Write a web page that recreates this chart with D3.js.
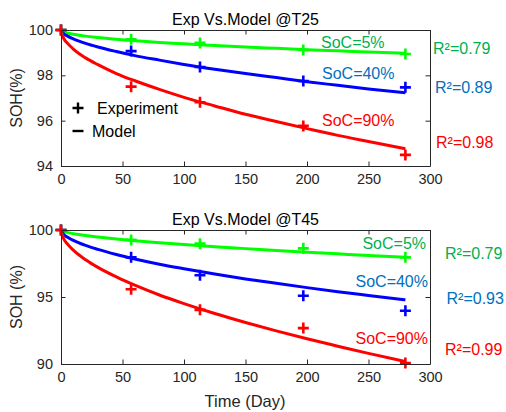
<!DOCTYPE html>
<html><head><meta charset="utf-8">
<script src="https://cdn.jsdelivr.net/npm/d3@7"></script>
<style>body{margin:0;background:#fff}svg{display:block;font-family:"Liberation Sans",Arial,sans-serif}</style>
</head><body><div id="chart"></div>
<script>
// ---------- data ----------
const expDays = [0, 57, 113, 197, 280];
const modelDays = [0, 2, 5, 10, 20, 30, 45, 60, 80, 100, 125, 150, 175, 200, 225, 250, 280];
const socLabels = ["SoC=5%", "SoC=40%", "SoC=90%"];
const xTicks = [0, 50, 100, 150, 200, 250, 300];

// T25
const t25Title = "Exp Vs.Model @T25";
const t25YTicks = [94, 96, 98, 100];
const t25Exp5  = [100, 99.59, 99.43, 99.12, 98.94];
const t25Exp40 = [100, 99.07, 98.37, 97.75, 97.47];
const t25Exp90 = [100, 97.50, 96.81, 95.77, 94.49];
const t25Mod5  = [100, 99.92, 99.87, 99.81, 99.73, 99.67, 99.59, 99.53, 99.45, 99.39, 99.32, 99.25, 99.19, 99.13, 99.08, 99.03, 98.97];
const t25Mod40 = [100, 99.85, 99.74, 99.61, 99.41, 99.25, 99.05, 98.87, 98.67, 98.48, 98.27, 98.08, 97.90, 97.72, 97.56, 97.40, 97.23];
const t25Mod90 = [100, 99.65, 99.43, 99.16, 98.77, 98.47, 98.08, 97.76, 97.38, 97.03, 96.65, 96.28, 95.96, 95.65, 95.35, 95.08, 94.76];
const t25R2 = ["R²=0.79", "R²=0.89", "R²=0.98"];

// T45
const t45Title = "Exp Vs.Model @T45";
const t45YTicks = [90, 95, 100];
const t45Exp5  = [100, 99.26, 98.98, 98.63, 97.96];
const t45Exp40 = [100, 97.96, 96.62, 95.09, 93.97];
const t45Exp90 = [100, 95.58, 94.04, 92.68, 90.07];
const t45Mod5  = [100, 99.90, 99.82, 99.73, 99.59, 99.48, 99.33, 99.20, 99.05, 98.91, 98.75, 98.61, 98.47, 98.34, 98.22, 98.10, 97.97];
const t45Mod40 = [100, 99.69, 99.48, 99.23, 98.85, 98.55, 98.17, 97.84, 97.45, 97.11, 96.71, 96.35, 96.02, 95.70, 95.40, 95.12, 94.79];
const t45Mod90 = [100, 99.39, 98.98, 98.50, 97.78, 97.21, 96.50, 95.88, 95.15, 94.51, 93.77, 93.10, 92.47, 91.88, 91.33, 90.79, 90.19];
const t45R2 = ["R²=0.79", "R²=0.93", "R²=0.99"];

const lineColors = ["#00ff00", "#0000ff", "#ff0000"];
const textColors = ["#00b050", "#0070c0", "#ff0000"];

// ---------- drawing ----------
const W = 506, H = 412;
const svg = d3.select("#chart").append("svg").attr("width", W).attr("height", H);
const axisColor = "#262626";

function panel(cfg) {
  const x = d3.scaleLinear().domain([0, 300]).range([61, 430]);
  const y = d3.scaleLinear().domain(cfg.yDomain).range([cfg.bottom, cfg.top]);
  const g = svg.append("g");

  // title
  g.append("text").attr("x", 245.5).attr("y", cfg.top - 5).attr("text-anchor", "middle")
    .attr("font-size", 16).attr("fill", "#000").text(cfg.title);

  // model lines
  const line = d3.line().x((d, i) => x(modelDays[i])).y(d => y(d)).curve(d3.curveMonotoneX);
  cfg.models.forEach((m, k) => {
    g.append("path").datum(m).attr("d", line).attr("fill", "none")
      .attr("stroke", lineColors[k]).attr("stroke-width", 3);
  });
  // experiment markers (plus)
  const s = 5.5;
  cfg.exps.forEach((e, k) => {
    g.selectAll(null).data(e).enter().append("path")
      .attr("d", (d, i) => `M${x(expDays[i]) - s},${y(d)}H${x(expDays[i]) + s}M${x(expDays[i])},${y(d) - s}V${y(d) + s}`)
      .attr("stroke", lineColors[k]).attr("stroke-width", 2.6).attr("fill", "none");
  });

  // axes (box, inward ticks)
  const tl = 4.5;
  const fmt = d3.format("d");
  const ax = g.append("g").attr("transform", `translate(0,${cfg.bottom})`)
    .call(d3.axisBottom(x).tickValues(xTicks).tickFormat(fmt).tickSizeInner(-tl).tickSizeOuter(0).tickPadding(8));
  const axTop = g.append("g").attr("transform", `translate(0,${cfg.top})`)
    .call(d3.axisTop(x).tickValues(xTicks).tickSizeInner(-tl).tickSizeOuter(0).tickFormat(""));
  const ay = g.append("g").attr("transform", `translate(61,0)`)
    .call(d3.axisLeft(y).tickValues(cfg.yTicks).tickFormat(fmt).tickSizeInner(-tl).tickSizeOuter(0).tickPadding(8));
  const ayR = g.append("g").attr("transform", `translate(430,0)`)
    .call(d3.axisRight(y).tickValues(cfg.yTicks).tickSizeInner(-tl).tickSizeOuter(0).tickFormat(""));
  [ax, axTop, ay, ayR].forEach(a => {
    a.select(".domain").attr("stroke", axisColor).attr("stroke-width", 1);
    a.selectAll(".tick line").attr("stroke", axisColor);
    a.selectAll("text").attr("font-size", 14.5).attr("fill", axisColor).attr("font-family", "Liberation Sans, Arial, sans-serif");
  });
  ax.selectAll("text").attr("dy", "0.71em");

  // y label
  g.append("text").attr("transform", `translate(22,${(cfg.top + cfg.bottom) / 2}) rotate(-90)`)
    .attr("text-anchor", "middle").attr("font-size", 16).attr("fill", axisColor).text(cfg.yLabel);

  // annotations
  cfg.socPos.forEach((p, k) => {
    g.append("text").attr("x", p[0]).attr("y", p[1]).attr("text-anchor", p[2])
      .attr("font-size", 16).attr("fill", textColors[k]).text(socLabels[k]);
  });
  cfg.r2Pos.forEach((p, k) => {
    g.append("text").attr("x", p[0]).attr("y", p[1])
      .attr("font-size", 16).attr("fill", textColors[k]).text(cfg.r2[k]);
  });
}

panel({
  title: t25Title, top: 30, bottom: 166, yDomain: [94, 100], yTicks: t25YTicks, yLabel: "SOH(%)",
  models: [t25Mod5, t25Mod40, t25Mod90], exps: [t25Exp5, t25Exp40, t25Exp90], r2: t25R2,
  socPos: [[321, 47.5, "start"], [322, 79, "start"], [322, 126, "start"]],
  r2Pos: [[433, 53.5], [435, 92.5], [436, 147.5]]
});
panel({
  title: t45Title, top: 230, bottom: 364, yDomain: [90, 100], yTicks: t45YTicks, yLabel: "SOH (%)",
  models: [t45Mod5, t45Mod40, t45Mod90], exps: [t45Exp5, t45Exp40, t45Exp90], r2: t45R2,
  socPos: [[426, 249, "end"], [428, 287, "end"], [428, 344, "end"]],
  r2Pos: [[445, 259], [446.5, 303.5], [445, 355]]
});

// x label
svg.append("text").attr("x", 245).attr("y", 407).attr("text-anchor", "middle")
  .attr("font-size", 16.5).attr("fill", axisColor).text("Time (Day)");

// legend (top panel)
const lg = svg.append("g");
lg.append("path").attr("d", "M72.5,108H83.5M78,102.5V113.5").attr("stroke", "#000").attr("stroke-width", 2.4);
lg.append("text").attr("x", 97).attr("y", 114).attr("font-size", 16).attr("fill", "#000").text("Experiment");
lg.append("path").attr("d", "M72.5,131H83.5").attr("stroke", "#000").attr("stroke-width", 2.4);
lg.append("text").attr("x", 92).attr("y", 136.5).attr("font-size", 16).attr("fill", "#000").text("Model");
</script>
</body></html>
